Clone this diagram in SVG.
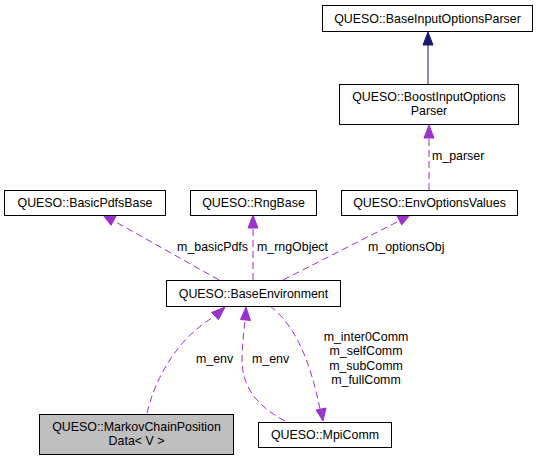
<svg xmlns="http://www.w3.org/2000/svg" width="541" height="461" viewBox="0 0 541 461">
<style>
text{font-family:"Liberation Sans",Arial,Helvetica,sans-serif;font-size:12.4px;fill:#000}
.n rect{fill:#fff;stroke:#000;stroke-width:1}
.n text{text-anchor:middle}
.e{fill:none;stroke:#9a32cd;stroke-width:1;stroke-dasharray:7,4}
.h{fill:#9a32cd;stroke:#9a32cd;stroke-width:1}
.inh{fill:none;stroke:#191970;stroke-width:1}
.ih{fill:#191970;stroke:#191970;stroke-width:1}
.l{text-anchor:start}
</style>
<rect width="541" height="461" fill="#fff"/>
<g id="connectors">
  <line class="inh" x1="428" y1="84" x2="428" y2="45"/>
  <polygon class="ih" points="428,32 433,45 423,45"/>
  <line class="e" x1="429" y1="190" x2="429" y2="138"/>
  <polygon class="h" points="429,125 434,138 424,138"/>
  <line class="e" x1="219" y1="280" x2="114" y2="221"/>
  <polygon class="h" points="103,215 116,216.5 111,225.3"/>
  <line class="e" x1="253" y1="280" x2="253" y2="228"/>
  <polygon class="h" points="253,215 258,228 248,228"/>
  <line class="e" x1="283" y1="280" x2="399" y2="221"/>
  <polygon class="h" points="410,215 401.7,224.9 397.1,216.1"/>
  <path class="e" d="M147,413 C155,380 175,340 215,316"/>
  <polygon class="h" points="225,307 218.5,319.5 211.5,312.5"/>
  <path class="e" d="M285,421 C255,405 242,385 242,360 C242,345 244,332 245,320"/>
  <polygon class="h" points="246,307 250.5,320.5 240.5,319.5"/>
  <path class="e" d="M270,306 C295,325 310,360 320,409"/>
  <polygon class="h" points="323,421 326,408 316,410"/>
  <text class="l" x="432" y="160">m_parser</text>
  <text x="248" y="251" text-anchor="end">m_basicPdfs</text>
  <text class="l" x="257" y="251">m_rngObject</text>
  <text class="l" x="368" y="251">m_optionsObj</text>
  <text class="l" x="196" y="363">m_env</text>
  <text class="l" x="252" y="363">m_env</text>
  <text x="366" y="340.5" text-anchor="middle">m_inter0Comm</text>
  <text x="366" y="355" text-anchor="middle">m_selfComm</text>
  <text x="366" y="369.5" text-anchor="middle">m_subComm</text>
  <text x="366" y="384" text-anchor="middle">m_fullComm</text>
</g>
<g id="node_BaseInputOptionsParser" class="n">
  <rect x="322.5" y="5.5" width="210" height="26"/>
  <text x="427.5" y="22.5">QUESO::BaseInputOptionsParser</text>
</g>
<g id="node_BoostInputOptionsParser" class="n">
  <rect x="339.5" y="84.5" width="179" height="40"/>
  <text x="429" y="101">QUESO::BoostInputOptions</text>
  <text x="429" y="115">Parser</text>
</g>
<g id="node_BasicPdfsBase" class="n">
  <rect x="4.5" y="190.5" width="161" height="25"/>
  <text x="85" y="206.5">QUESO::BasicPdfsBase</text>
</g>
<g id="node_RngBase" class="n">
  <rect x="190.5" y="190.5" width="126" height="25"/>
  <text x="253.5" y="206.5">QUESO::RngBase</text>
</g>
<g id="node_EnvOptionsValues" class="n">
  <rect x="341.5" y="190.5" width="176" height="25"/>
  <text x="429.5" y="206.5">QUESO::EnvOptionsValues</text>
</g>
<g id="node_BaseEnvironment" class="n">
  <rect x="166.5" y="280.5" width="174" height="26"/>
  <text x="253.5" y="297.5">QUESO::BaseEnvironment</text>
</g>
<g id="node_MarkovChainPositionData" class="n">
  <rect x="39.5" y="414.5" width="194" height="40" style="fill:#bfbfbf"/>
  <text x="136.5" y="430.5">QUESO::MarkovChainPosition</text>
  <text x="136.5" y="444.5">Data&lt; V &gt;</text>
</g>
<g id="node_MpiComm" class="n">
  <rect x="258.5" y="422.5" width="133" height="25"/>
  <text x="325" y="438.5">QUESO::MpiComm</text>
</g>
</svg>
